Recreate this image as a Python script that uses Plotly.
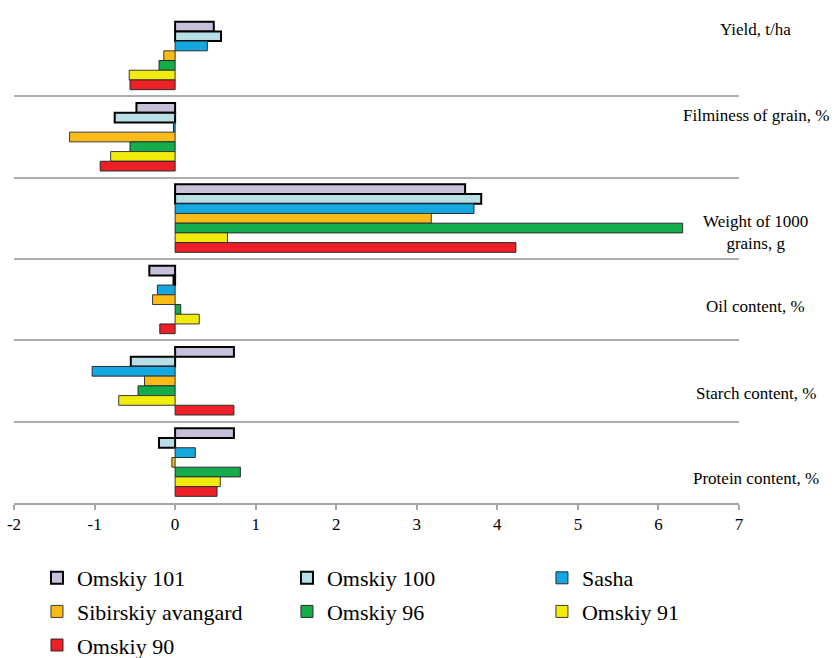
import plotly.graph_objects as go

# Traits (top to bottom) and deviations of each variety
traits = ["Yield, t/ha", "Filminess of grain, %", "Weight of 1000<br>grains, g",
          "Oil content, %", "Starch content, %", "Protein content, %"]

varieties = ["Omskiy 101", "Omskiy 100", "Sasha", "Sibirskiy avangard",
             "Omskiy 96", "Omskiy 91", "Omskiy 90"]

omskiy_101 = [0.48, -0.48, 3.60, -0.32, 0.73, 0.73]
omskiy_100 = [0.57, -0.75, 3.80, -0.02, -0.55, -0.20]
sasha = [0.40, -0.02, 3.71, -0.22, -1.03, 0.25]
sibirskiy_avangard = [-0.14, -1.31, 3.18, -0.28, -0.38, -0.04]
omskiy_96 = [-0.20, -0.56, 6.30, 0.07, -0.46, 0.81]
omskiy_91 = [-0.57, -0.80, 0.65, 0.30, -0.70, 0.56]
omskiy_90 = [-0.56, -0.93, 4.23, -0.19, 0.73, 0.52]

x_ticks = [-2, -1, 0, 1, 2, 3, 4, 5, 6, 7]

series = [omskiy_101, omskiy_100, sasha, sibirskiy_avangard,
          omskiy_96, omskiy_91, omskiy_90]
fill_colors = ["#C8C0DA", "#B8DFE8", "#14A8E0", "#FBBB16",
               "#14AD4B", "#F2EC0C", "#EE1F26"]
edge_colors = ["#000000", "#000000", "#2A2A2A", "#3A3A3A",
               "#2A2A2A", "#3A3A3A", "#2A2A2A"]
edge_widths = [2, 2, 1, 1, 1, 1, 1]
# legend laid out in three columns
legend_cols = ["legend", "legend2", "legend3", "legend", "legend2", "legend3", "legend"]

SERIF = "Liberation Serif"

fig = go.Figure()
for name, vals, fc, ec, ew, lg in zip(varieties, series, fill_colors,
                                      edge_colors, edge_widths, legend_cols):
    fig.add_trace(go.Bar(
        y=traits, x=vals, orientation="h", name=name,
        marker=dict(color=fc, line=dict(color=ec, width=ew)),
        legend=lg, legendgroup=name,
    ))

# trait captions sit to the right of the plotting area
caption_shift = [26, 22, -14, -7, -12, -16]
annotations = [
    dict(text=t, xref="paper", x=1.0234, xanchor="center",
         yref="y", y=t, yanchor="middle", yshift=s, showarrow=False,
         font=dict(family=SERIF, size=17, color="black"))
    for t, s in zip(traits, caption_shift)
]

legend_common = dict(
    orientation="v", xref="paper", yref="paper", xanchor="left", yanchor="top",
    y=-0.1107, font=dict(family=SERIF, size=22, color="black"),
    traceorder="grouped", tracegroupgap=2,
    bgcolor="rgba(0,0,0,0)", borderwidth=0,
)

fig.update_layout(
    width=838, height=658,
    margin=dict(l=14, r=99, t=15, b=155, autoexpand=False),
    plot_bgcolor="white", paper_bgcolor="white",
    barmode="group", bargap=0.164, bargroupgap=0,
    font=dict(family=SERIF, size=17, color="black"),
    xaxis=dict(
        range=[-2, 7], tickmode="array", tickvals=x_ticks,
        ticktext=[str(v) for v in x_ticks],
        showgrid=False, zeroline=False, automargin=False,
        showline=True, linecolor="#A6A6A6", linewidth=1.5,
        ticks="outside", ticklen=5, tickcolor="#A6A6A6", tickwidth=1.5,
        tickfont=dict(family=SERIF, size=17, color="black"),
    ),
    yaxis=dict(
        type="category", autorange="reversed", tickson="boundaries",
        showgrid=True, gridcolor="#ADADAD", gridwidth=1.5, automargin=False,
        showticklabels=False, ticks="", zeroline=False, showline=False,
    ),
    annotations=annotations,
    legend=dict(legend_common, x=0.0317),
    legend2=dict(legend_common, x=0.3765),
    legend3=dict(legend_common, x=0.7282),
)

fig.write_html("out.html")
